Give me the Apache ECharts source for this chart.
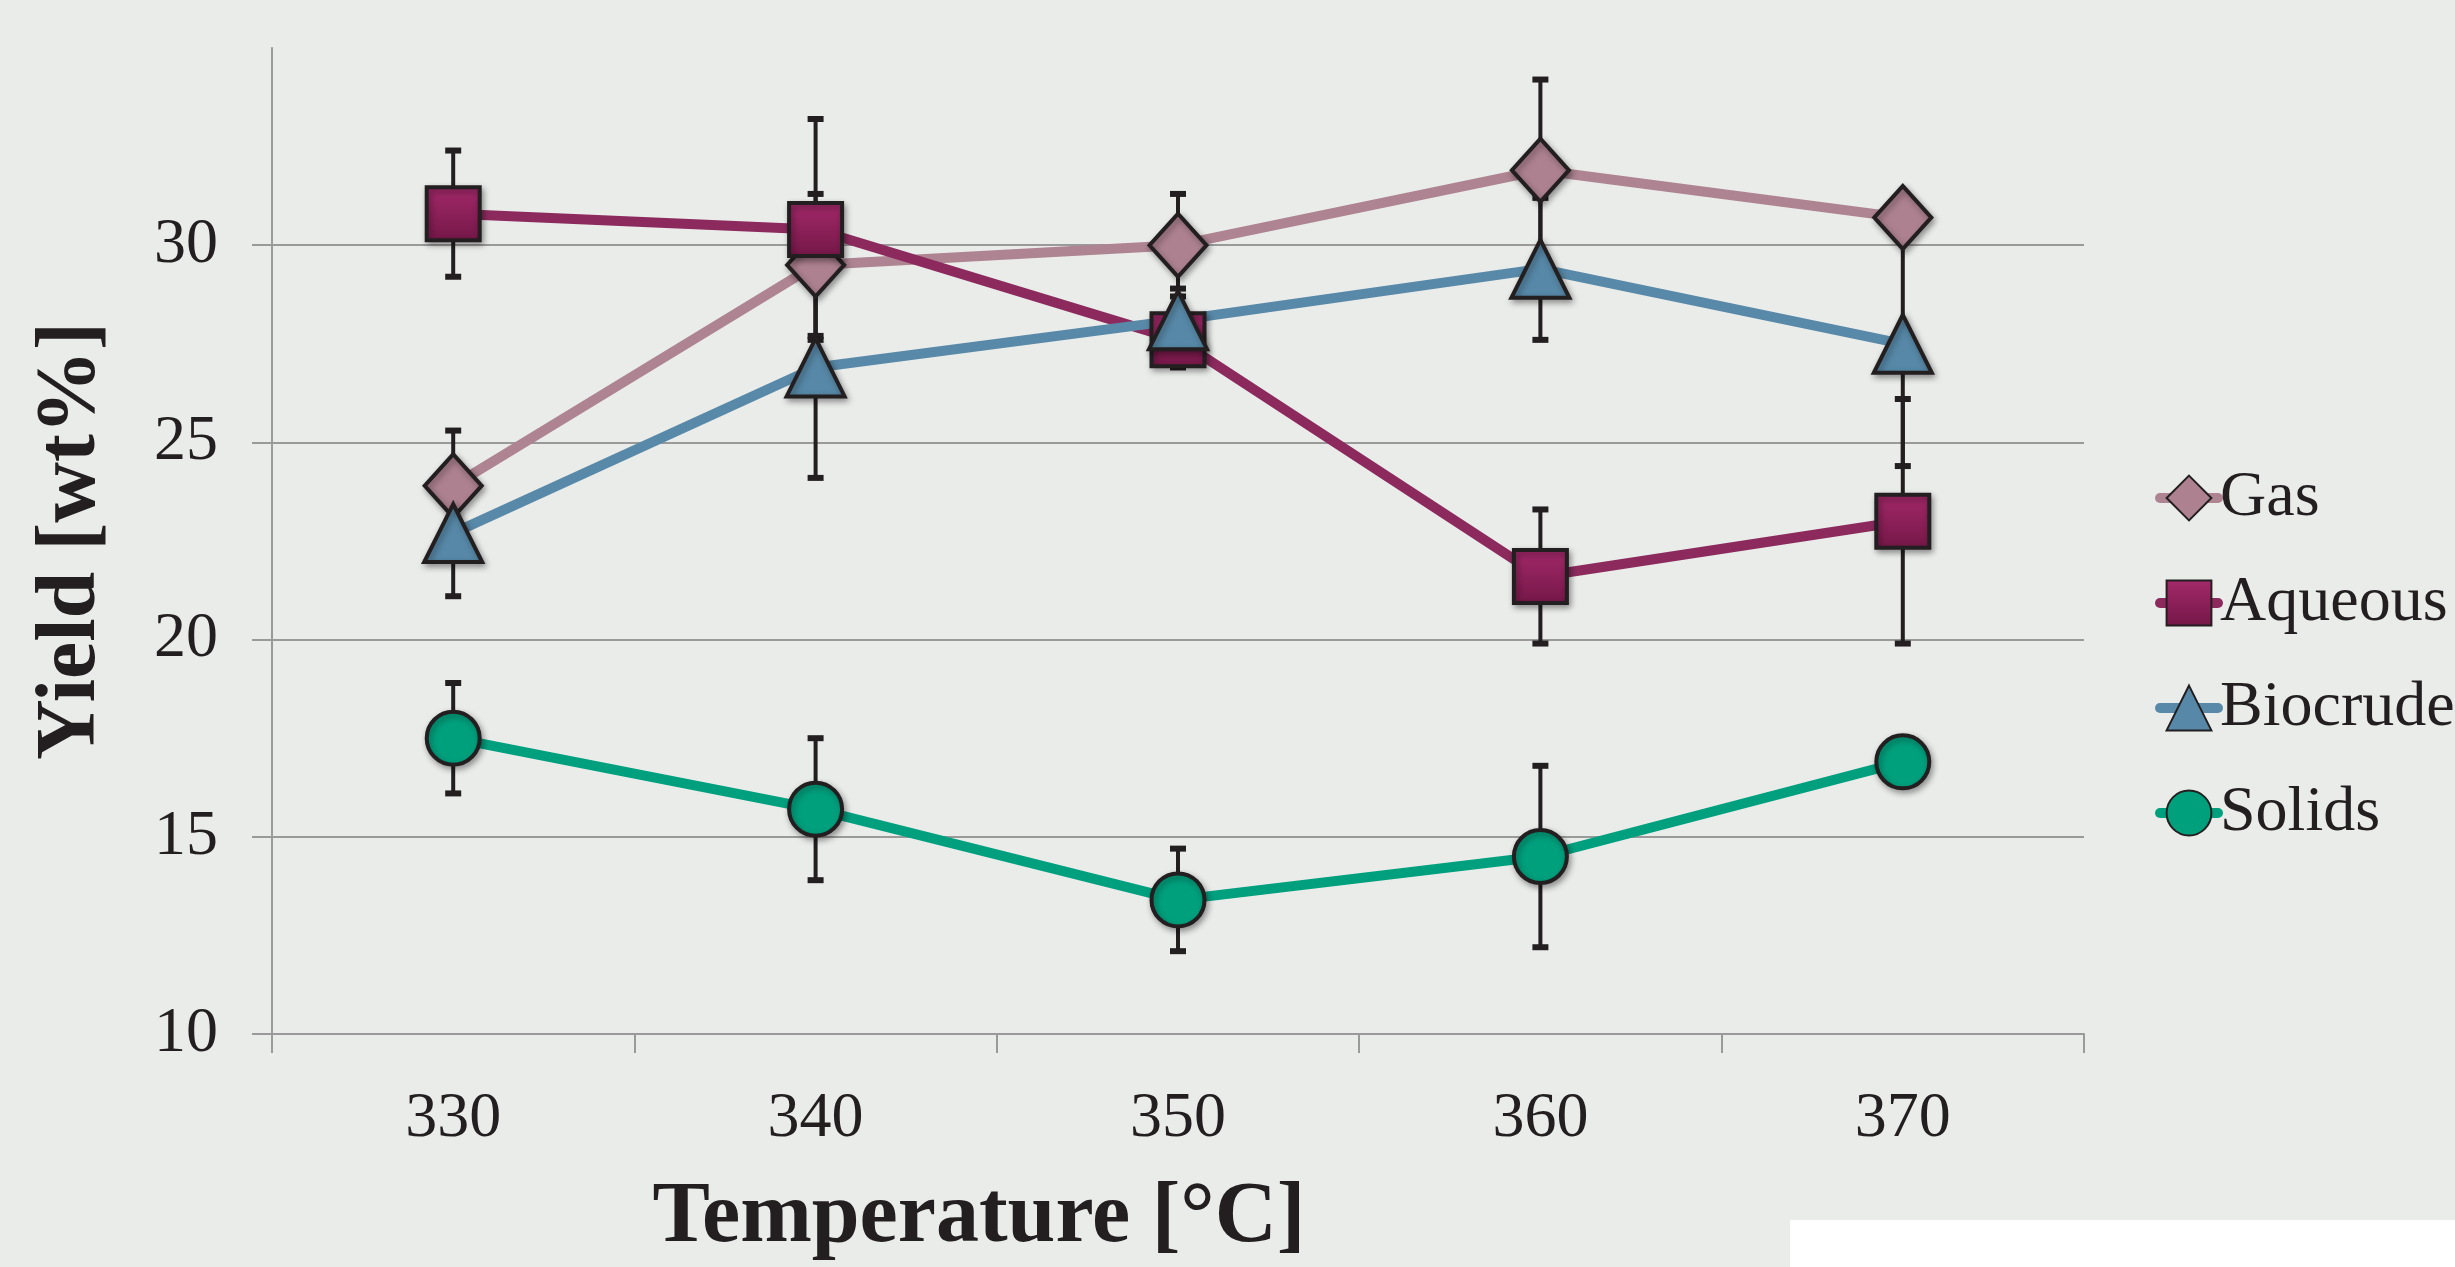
<!DOCTYPE html>
<html>
<head>
<meta charset="utf-8">
<script src="https://cdn.jsdelivr.net/npm/echarts@6/dist/echarts.min.js"></script>
<style>
  html, body { margin: 0; padding: 0; background: #EAECEA; }
  #chart { width: 2455px; height: 1267px; }
</style>
</head>
<body>
<div id="chart"></div>
<script>
// temperatures on the x axis
const temps = ['330', '340', '350', '360', '370']
const yTicks = [10, 15, 20, 25, 30]

// yields [wt%] and their error bars (±)
const gas = [23.9, 29.5, 30.0, 31.9, 30.7]
const gasErr = [1.4, 1.8, 1.3, 2.3, 0.5]
const aqueous = [30.8, 30.4, 27.6, 21.6, 23.0]
const aqueousErr = [1.6, 2.8, 0.7, 1.7, 3.1]
const biocrude = [22.7, 26.9, 28.1, 29.4, 27.5]
const biocrudeErr = [1.6, 2.8, 0.8, 1.8, 3.1]
const solids = [17.5, 15.7, 13.4, 14.5, 16.9]
const solidsErr = [1.4, 1.8, 1.3, 2.3, 0.3]

const ink = '#231F20'
const font = 'Liberation Serif'

const chart = echarts.init(document.getElementById('chart'))

// error bars are drawn as a custom series under the markers
const errorSeries = (values, errs) => ({
  type: 'custom',
  z: 1,
  silent: true,
  data: values.map((v, i) => [i, v - errs[i], v + errs[i]]),
  renderItem: (params, api) => {
    const lo = api.coord([api.value(0), api.value(1)])
    const hi = api.coord([api.value(0), api.value(2)])
    const half = 8
    return {
      type: 'group',
      children: [
        { type: 'line', shape: { x1: lo[0], y1: lo[1], x2: hi[0], y2: hi[1] }, style: { stroke: ink, lineWidth: 4 } },
        { type: 'line', shape: { x1: hi[0] - half, y1: hi[1], x2: hi[0] + half, y2: hi[1] }, style: { stroke: ink, lineWidth: 6 } },
        { type: 'line', shape: { x1: lo[0] - half, y1: lo[1], x2: lo[0] + half, y2: lo[1] }, style: { stroke: ink, lineWidth: 6 } }
      ]
    }
  }
})

const markerShadow = {
  borderColor: ink,
  borderWidth: 4,
  shadowBlur: 6,
  shadowColor: 'rgba(0,0,0,0.35)',
  shadowOffsetX: 2,
  shadowOffsetY: 3
}

const lineSeries = (name, values, color, fill, symbol, size) => ({
  name: name,
  type: 'line',
  z: 2,
  data: values,
  symbol: symbol,
  symbolSize: size,
  showAllSymbol: true,
  lineStyle: { color: color, width: 10 },
  itemStyle: Object.assign({ color: fill }, markerShadow),
  emphasis: { disabled: true }
})

const aqueousFill = new echarts.graphic.LinearGradient(0, 0, 0, 1, [
  { offset: 0, color: '#A3296A' },
  { offset: 1, color: '#741747' }
])

chart.setOption({
  backgroundColor: '#EAECEA',
  animation: false,
  textStyle: { fontFamily: font, color: ink },
  grid: {
    left: 272,
    right: 371,
    top: 48,
    bottom: 233,
    outerBoundsMode: 'none'
  },
  legend: {
    data: ['Gas', 'Aqueous', 'Biocrude', 'Solids'],
    orient: 'vertical',
    left: 2150,
    top: 461,
    itemWidth: 58,
    itemHeight: 56,
    itemGap: 41,
    lineStyle: { width: 10, cap: 'round' },
    textStyle: { fontFamily: font, fontSize: 64, color: ink, lineHeight: 56, padding: [0, 0, 0, -3] }
  },
  xAxis: {
    type: 'category',
    data: temps,
    boundaryGap: true,
    name: 'Temperature [°C]',
    nameLocation: 'middle',
    nameGap: 142,
    nameTextStyle: { fontFamily: font, fontSize: 86, fontWeight: 'bold', color: ink, padding: [0, 398, 0, 0] },
    axisLine: { lineStyle: { color: '#9A9A9A', width: 2 } },
    axisTick: { show: true, alignWithLabel: false, length: 19, lineStyle: { color: '#9A9A9A', width: 2 } },
    axisLabel: { fontFamily: font, fontSize: 64, color: ink, margin: 53 },
    splitLine: { show: false }
  },
  yAxis: {
    type: 'value',
    min: 10,
    max: 35,
    interval: 5,
    name: 'Yield [wt%]',
    nameLocation: 'middle',
    nameGap: 158,
    nameTextStyle: { fontFamily: font, fontSize: 84, fontWeight: 'bold', color: ink },
    axisLine: { show: true, lineStyle: { color: '#9A9A9A', width: 2 } },
    axisTick: { show: true, length: 20, customValues: yTicks, lineStyle: { color: '#9A9A9A', width: 2 } },
    axisLabel: { fontFamily: font, fontSize: 64, color: ink, margin: 54, customValues: yTicks },
    splitLine: { show: true, lineStyle: { color: ['#9A9A9A', '#9A9A9A', '#9A9A9A', '#9A9A9A', '#9A9A9A', 'rgba(0,0,0,0)'], width: 2 } }
  },
  graphic: [
    { type: 'rect', left: 1790, top: 1220, shape: { width: 665, height: 47 }, style: { fill: '#FFFFFF' }, silent: true }
  ],
  series: [
    errorSeries(gas, gasErr),
    errorSeries(aqueous, aqueousErr),
    errorSeries(biocrude, biocrudeErr),
    errorSeries(solids, solidsErr),
    lineSeries('Gas', gas, '#AE8492', '#AD8190', 'diamond', [57, 63]),
    lineSeries('Aqueous', aqueous, '#8C2A5E', aqueousFill, 'rect', 53),
    lineSeries('Biocrude', biocrude, '#5889A8', '#5788A7', 'triangle', [58, 58]),
    lineSeries('Solids', solids, '#00A07F', '#00A07D', 'circle', 53)
  ]
})
</script>
</body>
</html>
